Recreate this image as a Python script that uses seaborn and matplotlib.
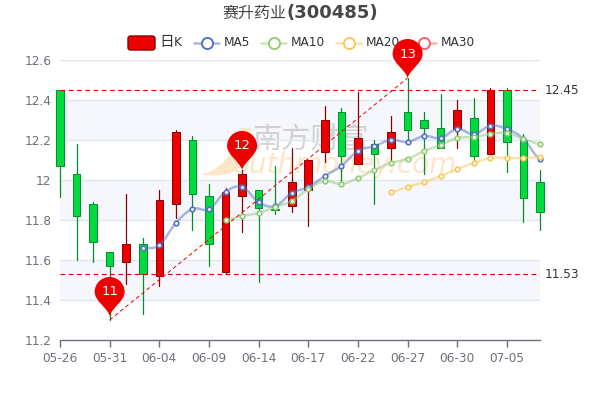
import numpy as np
import pandas as pd
import matplotlib
matplotlib.use("Agg")
import matplotlib.pyplot as plt
import seaborn as sns
from matplotlib.path import Path
from matplotlib.patches import PathPatch, FancyBboxPatch

# values
opens = [12.45, 12.03, 11.88, 11.64, 11.59, 11.68, 11.52, 11.88, 12.20, 11.92,
         11.54, 11.92, 11.95, 11.855, 11.87, 11.95, 12.14, 12.34, 12.08, 12.18,
         12.16, 12.34, 12.30, 12.26, 12.255, 12.31, 12.13, 12.45, 12.20, 11.99]
closes = [12.07, 11.82, 11.69, 11.57, 11.68, 11.53, 11.90, 12.24, 11.93, 11.68,
          11.94, 12.03, 11.86, 11.85, 11.99, 12.10, 12.30, 12.12, 12.21, 12.13,
          12.24, 12.25, 12.26, 12.16, 12.35, 12.12, 12.45, 12.19, 11.91, 11.84]
lows = [11.915, 11.60, 11.59, 11.30, 11.48, 11.33, 11.47, 11.81, 11.75, 11.57,
        11.53, 11.74, 11.49, 11.83, 11.84, 11.77, 12.09, 11.99, 12.08, 11.88,
        12.10, 12.19, 12.03, 12.16, 12.16, 12.10, 12.13, 12.04, 11.79, 11.75]
highs = [12.45, 12.18, 11.89, 11.64, 11.93, 11.71, 11.95, 12.25, 12.22, 11.98,
         11.96, 12.05, 11.95, 12.07, 12.16, 12.10, 12.37, 12.36, 12.44, 12.20,
         12.32, 12.51, 12.34, 12.43, 12.40, 12.41, 12.46, 12.46, 12.23, 12.05]

ma5 = [11.66, 11.675, 11.785, 11.855, 11.855, 11.94, 11.965, 11.89, 11.87, 11.935,
       11.965, 12.02, 12.07, 12.145, 12.17, 12.20, 12.19, 12.22, 12.21, 12.255,
       12.23, 12.27, 12.255, 12.205, 12.105]
ma10 = [11.80, 11.82, 11.835, 11.865, 11.895, 11.955, 11.995, 11.98, 12.01, 12.05,
        12.085, 12.105, 12.145, 12.175, 12.21, 12.215, 12.23, 12.235, 12.205, 12.18]
ma20 = [11.94, 11.965, 11.99, 12.02, 12.055, 12.085, 12.11, 12.11, 12.11, 12.115]
ma5_start, ma10_start, ma20_start = 5, 10, 20

tick_labels = ["05-26", "05-31", "06-04", "06-09", "06-14", "06-17", "06-22", "06-27", "06-30", "07-05"]
y_ticks = [11.2, 11.4, 11.6, 11.8, 12, 12.2, 12.4, 12.6]
y_labels = ["11.2", "11.4", "11.6", "11.8", "12", "12.2", "12.4", "12.6"]

max_line = 12.45
min_line = 11.53
pin_idx = [3, 11, 21]
pin_vals = [11.32, 12.05, 12.51]
pin_names = ["11", "12", "13"]

RED = "#ee0000"
RED_DARK = "#8a0000"
GREEN = "#00da3c"
GREEN_DARK = "#008f28"
TXT = "#6e7079"
C5, C10, C20, C30 = "#5470c6", "#91cc75", "#fac858", "#ee6666"
CJK = ['Noto Sans CJK SC', 'DejaVu Sans']

sns.set_theme(style="white")
plt.rcParams['font.family'] = ['DejaVu Sans', 'Noto Sans CJK SC']

fig = plt.figure(figsize=(6, 4), dpi=100)


def pixel_axes(z):
    # overlay in picture pixels, for things that are not data
    a = fig.add_axes([0, 0, 1, 1], facecolor="none", zorder=z)
    a.set_xlim(0, 600)
    a.set_ylim(400, 0)
    a.axis("off")
    return a


def smooth(xs, ys):
    # small catmull-rom so the MA lines bend like the original
    xs = np.asarray(xs, float)
    ys = np.asarray(ys, float)
    verts = [(xs[0], ys[0])]
    codes = [Path.MOVETO]
    for i in range(len(xs) - 1):
        y0 = ys[max(i - 1, 0)]
        y3 = ys[min(i + 2, len(ys) - 1)]
        c1 = (xs[i] + 0.4, ys[i] + (ys[i + 1] - y0) * 0.2)
        c2 = (xs[i + 1] - 0.4, ys[i + 1] - (y3 - ys[i]) * 0.2)
        verts += [c1, c2, (xs[i + 1], ys[i + 1])]
        codes += [Path.CURVE4] * 3
    return Path(verts, codes)


rect = [60 / 600, 60 / 400, 480 / 600, 280 / 400]

# striped background sits under the watermark
bg = fig.add_axes(rect, zorder=0)
bg.set_xlim(0, 29)
bg.set_ylim(11.2, 12.6)
bg.axis("off")
for lo, hi in [(11.4, 11.6), (11.8, 12.0), (12.2, 12.4)]:
    bg.axhspan(lo, hi, color="#f5f7fc", lw=0)

# watermark
wm = pixel_axes(0.6)
flame = Path([(202, 175), (228, 165), (235, 150), (240, 128), (262, 128),
              (246, 130), (246, 150), (248, 168), (232, 178), (202, 175)],
             [Path.MOVETO] + [Path.CURVE4] * 9)
wm.add_patch(PathPatch(flame, fc="#fde6c8", ec="none"))
wm.text(252, 141, "南方财富", color="#c8c8c8", fontsize=21, va="center", ha="left", family=CJK, alpha=0.8)
wm.text(233, 165, "outhmoney.com", color="#fde6c8", fontsize=20, style="italic", va="center", ha="left")

ax = fig.add_axes(rect, zorder=1)
ax.patch.set_alpha(0)
ax.set_xlim(0, 29)
ax.set_ylim(11.2, 12.6)
for t in y_ticks:
    ax.axhline(t, color="#e0e6f1", lw=1, zorder=0.5)

# candles
df = pd.DataFrame({"open": opens, "close": closes, "low": lows, "high": highs})
df["x"] = np.arange(len(df))
for _, r in df.iterrows():
    up = r["close"] >= r["open"]
    fc, ec = (RED, RED_DARK) if up else (GREEN, GREEN_DARK)
    ax.plot([r["x"], r["x"]], [r["low"], r["high"]], color=ec, lw=0.9, zorder=3, clip_on=False)
    bottom = min(r["open"], r["close"])
    ax.bar(r["x"], abs(r["close"] - r["open"]), bottom=bottom, width=0.46, color=fc,
           edgecolor=ec, linewidth=0.7, zorder=4, clip_on=False)

# moving averages
for vals, start, col in [(ma5, ma5_start, C5), (ma10, ma10_start, C10), (ma20, ma20_start, C20)]:
    xs = np.arange(start, start + len(vals))
    ax.add_patch(PathPatch(smooth(xs, vals), fc="none", ec=col, lw=1.8, alpha=0.5, zorder=5, clip_on=False))
    sns.lineplot(x=xs, y=vals, ax=ax, lw=0, marker="o", markersize=3.3, color=col,
                 markerfacecolor="white", markeredgecolor=col, markeredgewidth=1.2,
                 zorder=6, clip_on=False, legend=False)

# mark lines
ax.axhline(max_line, color=RED, lw=0.85, ls=(0, (4, 3)), zorder=5)
ax.axhline(min_line, color=RED, lw=0.85, ls=(0, (4, 3)), zorder=5)
ax.text(29.3, max_line, "12.45", color="#333333", fontsize=8.7, va="center", ha="left")
ax.text(29.3, min_line, "11.53", color="#333333", fontsize=8.7, va="center", ha="left")
ax.plot([pin_idx[0], pin_idx[2]], [lows[pin_idx[0]], highs[pin_idx[2]]], color=RED, lw=0.7,
        ls=(0, (4, 3)), zorder=5)

# axes
for s in ["top", "right", "left"]:
    ax.spines[s].set_visible(False)
ax.spines["bottom"].set_color(TXT)
ax.spines["bottom"].set_linewidth(1)
ax.set_xticks(np.arange(0, 30, 3))
ax.set_xticklabels(tick_labels, color=TXT, fontsize=8.7)
ax.set_yticks(y_ticks)
ax.set_yticklabels(y_labels, color=TXT, fontsize=8.7)
ax.tick_params(axis="x", length=5, width=1, color=TXT, pad=4, bottom=True)
ax.tick_params(axis="y", length=0, pad=6)

# title
fig.text(222 / 600, 1 - 13 / 400, "赛升药业", color="#464646", fontsize=11.5, ha="left", va="center", family=CJK)
fig.text(286 / 600, 1 - 13 / 400, "(300485)", color="#464646", fontsize=13, ha="left", va="center", fontweight="bold")

# legend laid out by hand like the original
leg = pixel_axes(2)
leg.add_patch(FancyBboxPatch((128, 36), 27, 14, boxstyle="round,pad=0,rounding_size=2.5",
                             fc=RED, ec=RED_DARK, lw=1))
leg.text(159, 42, "日", color="#333333", fontsize=10.5, ha="left", va="center", family=CJK)
leg.text(174, 43, "K", color="#333333", fontsize=8.7, ha="left", va="center")
for x0, name, col in [(194, "MA5", C5), (261, "MA10", C10), (336, "MA20", C20), (411, "MA30", C30)]:
    leg.plot([x0, x0 + 25], [43, 43], color=col, lw=1.8, alpha=0.5)
    leg.plot([x0 + 12.5], [43], marker="o", ms=8, mfc="white", mec=col, mew=1.4, ls="none")
    leg.text(x0 + 30, 43, name, color="#333333", fontsize=8.7, ha="left", va="center")

# pins go on top of everything, also over the legend
pin = pixel_axes(3)
fig.canvas.draw()
for i, v, name in zip(pin_idx, pin_vals, pin_names):
    px, py = ax.transData.transform((i, v))
    cx, cy = pin.transData.inverted().transform((px, py))
    r = 15
    c = 0.552 * r
    head = cy - 24
    pts = [(cx, cy), (cx - 2, cy - 8), (cx - r, head + 9), (cx - r, head),
           (cx - r, head - c), (cx - c, head - r), (cx, head - r),
           (cx + c, head - r), (cx + r, head - c), (cx + r, head),
           (cx + r, head + 9), (cx + 2, cy - 8), (cx, cy)]
    pin.add_patch(PathPatch(Path(pts, [Path.MOVETO] + [Path.CURVE4] * 12), fc=RED, ec="none", clip_on=False))
    pin.text(cx, head, name, color="white", fontsize=9.5, ha="center", va="center")

fig.savefig("out.png", dpi=100)
